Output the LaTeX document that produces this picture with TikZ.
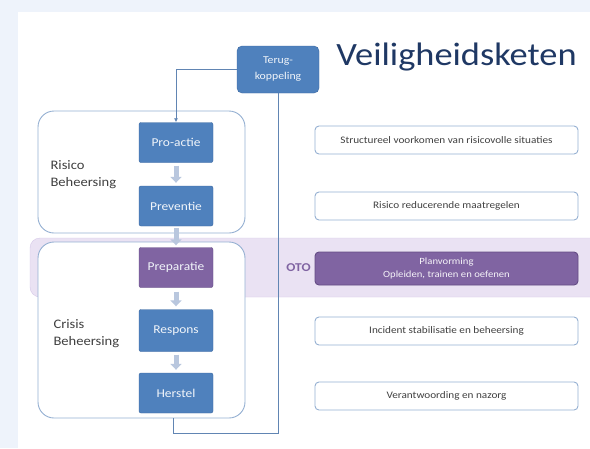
\documentclass[tikz,border=0pt]{standalone}
\usepackage{fontspec}
\setmainfont[FakeStretch=1.12]{Carlito}
\usepackage{tikz}
\usepackage{xcolor}
\usetikzlibrary{arrows.meta}
\usetikzlibrary{calc}
\definecolor{pagebg}{RGB}{238,243,251}
\definecolor{stapblauw}{RGB}{79,129,189}
\definecolor{staprand}{RGB}{58,103,160}
\definecolor{stappaars}{RGB}{128,100,162}
\definecolor{paarsrand}{RGB}{100,76,132}
\definecolor{bandpaars}{RGB}{234,226,243}
\definecolor{bandrand}{RGB}{214,200,232}
\definecolor{kaderrand}{RGB}{149,176,210}
\definecolor{pijlgrijs}{RGB}{185,199,222}
\definecolor{titelblauw}{RGB}{31,56,100}
\definecolor{tekstgrijs}{RGB}{64,64,64}

\tikzset{
  stap/.style={draw=staprand, fill=stapblauw, rounded corners=2pt, text=white!92!stapblauw,
    minimum width=74pt, minimum height=40pt, inner sep=1pt, font=\fontsize{12}{14}\selectfont},
  kader/.style={draw=kaderrand, line width=0.9pt, fill=white, rounded corners=16pt,
    minimum width=207pt},
  uitleg/.style={draw=kaderrand, line width=0.9pt, fill=white, rounded corners=4pt,
    minimum width=263pt, minimum height=28pt, text=tekstgrijs,
    font=\fontsize{10}{12}\selectfont, align=center},
  label/.style={anchor=west, align=left, text=tekstgrijs, font=\fontsize{13}{17}\selectfont},
  blokpijl/.style={pijlgrijs, line width=5pt, -{Triangle[width=11pt,length=6pt]}},
  lijn/.style={draw=staprand!80, line width=1pt}
}

\begin{document}
\begin{tikzpicture}[x=1pt, y=-1pt]
  \useasboundingbox (0,0) rectangle (590,448);
  \fill[pagebg] (0,0) rectangle (590,448);
  \fill[white] (18,12) rectangle (590,448);

  % OTO band
  \filldraw[draw=bandrand, fill=bandpaars, rounded corners=10pt] (600,238) -- (30,238) -- (30,297) -- (600,297);

  \node[kader, minimum height=122pt] (risico) at (141.5,172) {};
  \node[kader, minimum height=176pt] (crisis) at (141.5,330) {};

  \node[label] (risicotxt) at (47,175) {Risico\\Beheersing};
  \node[label] (crisistxt) at (50,334) {Crisis\\Beheersing};

  \node[stap] (proactie) at (176,142.5) {Pro-actie};
  \node[stap] (preventie) at (176,206) {Preventie};
  \node[stap, draw=paarsrand, fill=stappaars] (preparatie) at (176,267.5) {Preparatie};
  \node[stap, minimum height=42pt] (respons) at (176,330.5) {Respons};
  \node[stap] (herstel) at (176,393) {Herstel};

  \draw[blokpijl] ($(proactie.south)+(0,3)$) -- ($(preventie.north)+(0,-3)$);
  \draw[blokpijl] ($(preventie.south)+(0,2)$) -- ($(preparatie.north)+(0,-2)$);
  \draw[blokpijl] ($(preparatie.south)+(0,4)$) -- ($(respons.north)+(0,-3)$);
  \draw[blokpijl] ($(respons.south)+(0,3)$) -- ($(herstel.north)+(0,-3)$);

  \node[stap, rounded corners=5pt, minimum width=82pt, minimum height=47pt, align=center,
    font=\fontsize{10.5}{16}\selectfont] (terug) at (278,69.5) {Terug-\\koppeling};

  % terugkoppeling
  \coordinate (lus) at (173,433);
  \draw[lijn, -{Latex[length=4pt,width=4pt]}] (terug.west) -| (proactie.north);
  \draw[lijn] (terug.south) |- (lus) -- (lus |- crisis.south);

  \node[text=titelblauw, font=\fontsize{32.5}{36}\selectfont] (titel) at (456.5,57) {Veiligheidsketen};

  \node[uitleg] (structureel) at (446.5,140) {Structureel voorkomen van risicovolle situaties};
  \node[uitleg] (reducerend) at (446.5,206) {Risico reducerende maatregelen};
  \node[uitleg, draw=paarsrand, fill=stappaars, text=white!92!stappaars, minimum height=33pt,
    font=\fontsize{9.5}{12.5}\selectfont] (planvorming) at (446.5,268.5) {Planvorming\\Opleiden, trainen en oefenen};
  \node[uitleg] (incident) at (446.5,331) {Incident stabilisatie en beheersing};
  \node[uitleg] (nazorg) at (446.5,396) {Verantwoording en nazorg};

  \node[text=stappaars, font=\bfseries\fontsize{12}{14}\selectfont] (oto) at (298.5,268) {OTO};
\end{tikzpicture}
\end{document}
